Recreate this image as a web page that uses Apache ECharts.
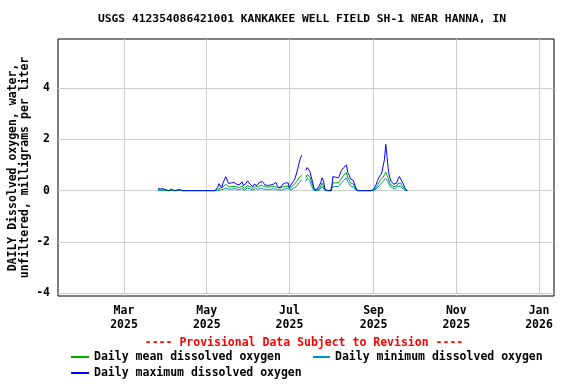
<!DOCTYPE html>
<html>
<head>
<meta charset="utf-8">
<script src="https://cdn.jsdelivr.net/npm/echarts@6/dist/echarts.min.js"></script>
<style>html,body{margin:0;padding:0;background:#fff}#c{width:576px;height:384px}</style>
</head>
<body>
<div id="c"></div>
<script>
var startDate = [2025, 2, 26]; // 2025-03-26, daily values follow
var maxDO = [
  0.07,0.07,0.07,0.05,0.07,0.07,
  0.03,0,0,0,0.06,0.03,0,0.05,0.02,0.06,0.04,0.05,0,0,0,0,0,0,0,0,0,0,0,0,0,0,0,0,0,0,
  0,0,0,0,0,0,0,0,0.12,0.27,0.22,0.1,0.3,0.25,0.54,0.42,0.28,0.22,0.3,0.25,0.32,0.36,0.25,0.3,0.22,0.28,0.35,0.2,0.15,0.28,0.38,
  0.32,0.25,0.18,0.15,0.25,0.3,0.2,0.25,0.33,0.38,0.35,0.28,0.22,0.25,0.2,0.25,0.22,0.28,0.25,0.3,0.32,0.2,0.12,0.18,0.15,0.25,0.2,0.3,0.33,0.3,
  0.12,0.15,0.3,0.32,0.45,0.5,0.82,1.05,1.25,1.38,null,null,0.78,0.9,0.95,0.75,0.55,0.35,0.1,0.02,0.05,0.1,0.12,0.3,0.5,0.4,0.1,0.02,0,0,0,
  0,0.55,0.55,0.52,0.55,0.5,0.6,0.75,0.78,0.9,0.95,1.0,0.7,0.6,0.45,0.42,0.4,0.35,0.1,0,0,0,0,0,0,0,0,0,0,0,0,
  0.05,0.12,0.25,0.4,0.52,0.6,0.68,0.75,1.2,1.8,1.3,0.75,0.5,0.35,0.3,0.25,0.2,0.3,0.45,0.55,0.5,0.35,0.25,0.12,0.03,0
];
var meanDO = [
  0.03,0.03,0.03,0.02,0.03,0.03,
  0.01,0,0,0,0.03,0.01,0,0.02,0.01,0.03,0.02,0.02,0,0,0,0,0,0,0,0,0,0,0,0,0,0,0,0,0,0,
  0,0,0,0,0,0,0,0,0.05,0.12,0.1,0.05,0.15,0.12,0.25,0.22,0.15,0.12,0.15,0.14,0.17,0.2,0.15,0.16,0.12,0.15,0.18,0.12,0.08,0.15,0.2,
  0.2,0.15,0.1,0.08,0.14,0.17,0.12,0.14,0.18,0.22,0.2,0.16,0.13,0.14,0.12,0.14,0.13,0.16,0.15,0.17,0.18,0.12,0.06,0.1,0.08,0.14,0.12,0.17,0.2,0.18,
  0.06,0.08,0.16,0.2,0.28,0.3,0.4,0.5,0.55,0.6,null,null,0.5,0.62,0.68,0.55,0.38,0.22,0.06,0.01,0.03,0.05,0.06,0.18,0.3,0.25,0.05,0.01,0,0,0,
  0,0.3,0.32,0.3,0.32,0.3,0.36,0.45,0.5,0.6,0.65,0.7,0.5,0.42,0.3,0.28,0.26,0.22,0.05,0,0,0,0,0,0,0,0,0,0,0,0,
  0.02,0.06,0.14,0.24,0.32,0.4,0.46,0.52,0.62,0.72,0.6,0.45,0.3,0.22,0.18,0.15,0.12,0.18,0.28,0.32,0.3,0.2,0.14,0.06,0.01,0
];
var minDO = [
  0,0,0,0,0,0,
  0,0,0,0,0,0,0,0,0,0,0,0,0,0,0,0,0,0,0,0,0,0,0,0,0,0,0,0,0,0,
  0,0,0,0,0,0,0,0,0,0.02,0.03,0,0.05,0.04,0.1,0.1,0.06,0.04,0.06,0.05,0.07,0.1,0.06,0.07,0.04,0.06,0.08,0.04,0.02,0.05,0.1,
  0.1,0.06,0.03,0.02,0.05,0.07,0.04,0.05,0.08,0.1,0.09,0.06,0.04,0.05,0.04,0.05,0.04,0.06,0.05,0.07,0.08,0.04,0,0.02,0.01,0.05,0.04,0.07,0.09,0.08,
  0.01,0.02,0.06,0.09,0.14,0.16,0.22,0.3,0.36,0.42,null,null,0.35,0.48,0.5,0.4,0.22,0.1,0.01,0,0,0.01,0.02,0.08,0.16,0.12,0.01,0,0,0,0,
  0,0.15,0.18,0.16,0.18,0.16,0.2,0.28,0.32,0.4,0.45,0.5,0.35,0.28,0.18,0.16,0.15,0.12,0.01,0,0,0,0,0,0,0,0,0,0,0,0,
  0,0.02,0.06,0.12,0.18,0.24,0.3,0.36,0.42,0.48,0.4,0.3,0.18,0.12,0.1,0.08,0.06,0.1,0.16,0.2,0.18,0.1,0.06,0.02,0,0
];
var xTickDates = [[2025,2,1],[2025,4,1],[2025,6,1],[2025,8,1],[2025,10,1],[2026,0,1]];
var monthNames = ['Jan','Feb','Mar','Apr','May','Jun','Jul','Aug','Sep','Oct','Nov','Dec'];
var yTicks = [-4, -2, 0, 2, 4];
var titleText = 'USGS 412354086421001 KANKAKEE WELL FIELD SH-1 NEAR HANNA, IN';
var yName = 'DAILY Dissolved oxygen, water,\nunfiltered, milligrams per liter';
var provisional = '---- Provisional Data Subject to Revision ----';
var names = ['Daily mean dissolved oxygen', 'Daily minimum dissolved oxygen', 'Daily maximum dissolved oxygen'];

var DAY = 86400000;
var t0 = new Date(startDate[0], startDate[1], startDate[2]).getTime();
function pairs(arr){ return arr.map(function(v,i){ return [t0 + i*DAY, v]; }); }
var xTicks = xTickDates.map(function(d){ return new Date(d[0], d[1], d[2]).getTime(); });
var xMin = new Date(2025,0,11,8).getTime();
var xMax = new Date(2026,0,12,1).getTime();
var FONT = 'DejaVu Sans Mono';
var legendText = {fontFamily: FONT, fontWeight:'bold', fontSize: 11.5, color:'#000'};

var chart = echarts.init(document.getElementById('c'), null, {renderer:'canvas'});
chart.setOption({
  animation: false,
  backgroundColor: '#fff',
  grid: {left: 58, right: 22, top: 39, bottom: 88, show: true, borderColor: '#000', borderWidth: 1,
         containLabel: false, outerBoundsMode: 'none'},
  graphic: [
    {type:'text', x: 302, y: 19, style:{text: titleText, fill:'#000', font:'bold 11.3px "DejaVu Sans Mono"', textAlign:'center', textVerticalAlign:'middle'}},
    {type:'text', x: 304, y: 343, style:{text: provisional, fill:'#ff0000', font:'bold 11.5px "DejaVu Sans Mono"', textAlign:'center', textVerticalAlign:'middle'}}
  ],
  legend: [
    {data:[names[0]], left: 71, top: 351, padding: 0, itemWidth: 18, itemHeight: 2, icon:'rect', textStyle: legendText},
    {data:[names[1]], left: 313, top: 351, padding: 0, itemWidth: 17, itemHeight: 2, icon:'rect', textStyle: legendText},
    {data:[names[2]], left: 71, top: 367, padding: 0, itemWidth: 18, itemHeight: 2, icon:'rect', textStyle: legendText}
  ],
  xAxis: {
    type: 'value', min: xMin, max: xMax,
    axisLine: {show: false},
    axisTick: {show: false, customValues: xTicks},
    splitLine: {show: true, lineStyle:{color:'#cccccc', width:1}},
    axisLabel: {customValues: xTicks, margin: 8, lineHeight: 14,
      fontFamily: FONT, fontWeight:'bold', fontSize: 11.5, color:'#000',
      formatter: function(v){ var d = new Date(v); return monthNames[d.getMonth()] + '\n' + d.getFullYear(); }}
  },
  yAxis: {
    type: 'value', min: -4.1, max: 5.9,
    name: yName, nameLocation: 'middle', nameGap: 27, nameRotate: 90, nameMoveOverlap: false,
    nameTextStyle: {fontFamily: FONT, fontWeight:'bold', fontSize: 11.5, color:'#000', lineHeight: 12},
    axisLine: {show: false},
    axisTick: {show: false, customValues: yTicks},
    splitLine: {show: true, lineStyle:{color:'#cccccc', width:1}},
    axisLabel: {customValues: yTicks, margin: 8, fontFamily: FONT, fontWeight:'bold', fontSize: 11.5, color:'#000'}
  },
  series: [
    {name: names[1], type:'line', data: pairs(minDO), showSymbol:false, connectNulls:false,
     lineStyle:{color:'#0090d0', width:1}, itemStyle:{color:'#0090d0'}},
    {name: names[0], type:'line', data: pairs(meanDO), showSymbol:false, connectNulls:false,
     lineStyle:{color:'#00aa00', width:1}, itemStyle:{color:'#00aa00'}},
    {name: names[2], type:'line', data: pairs(maxDO), showSymbol:false, connectNulls:false,
     lineStyle:{color:'#0000ff', width:1}, itemStyle:{color:'#0000ff'}}
  ]
});
</script>
</body>
</html>
